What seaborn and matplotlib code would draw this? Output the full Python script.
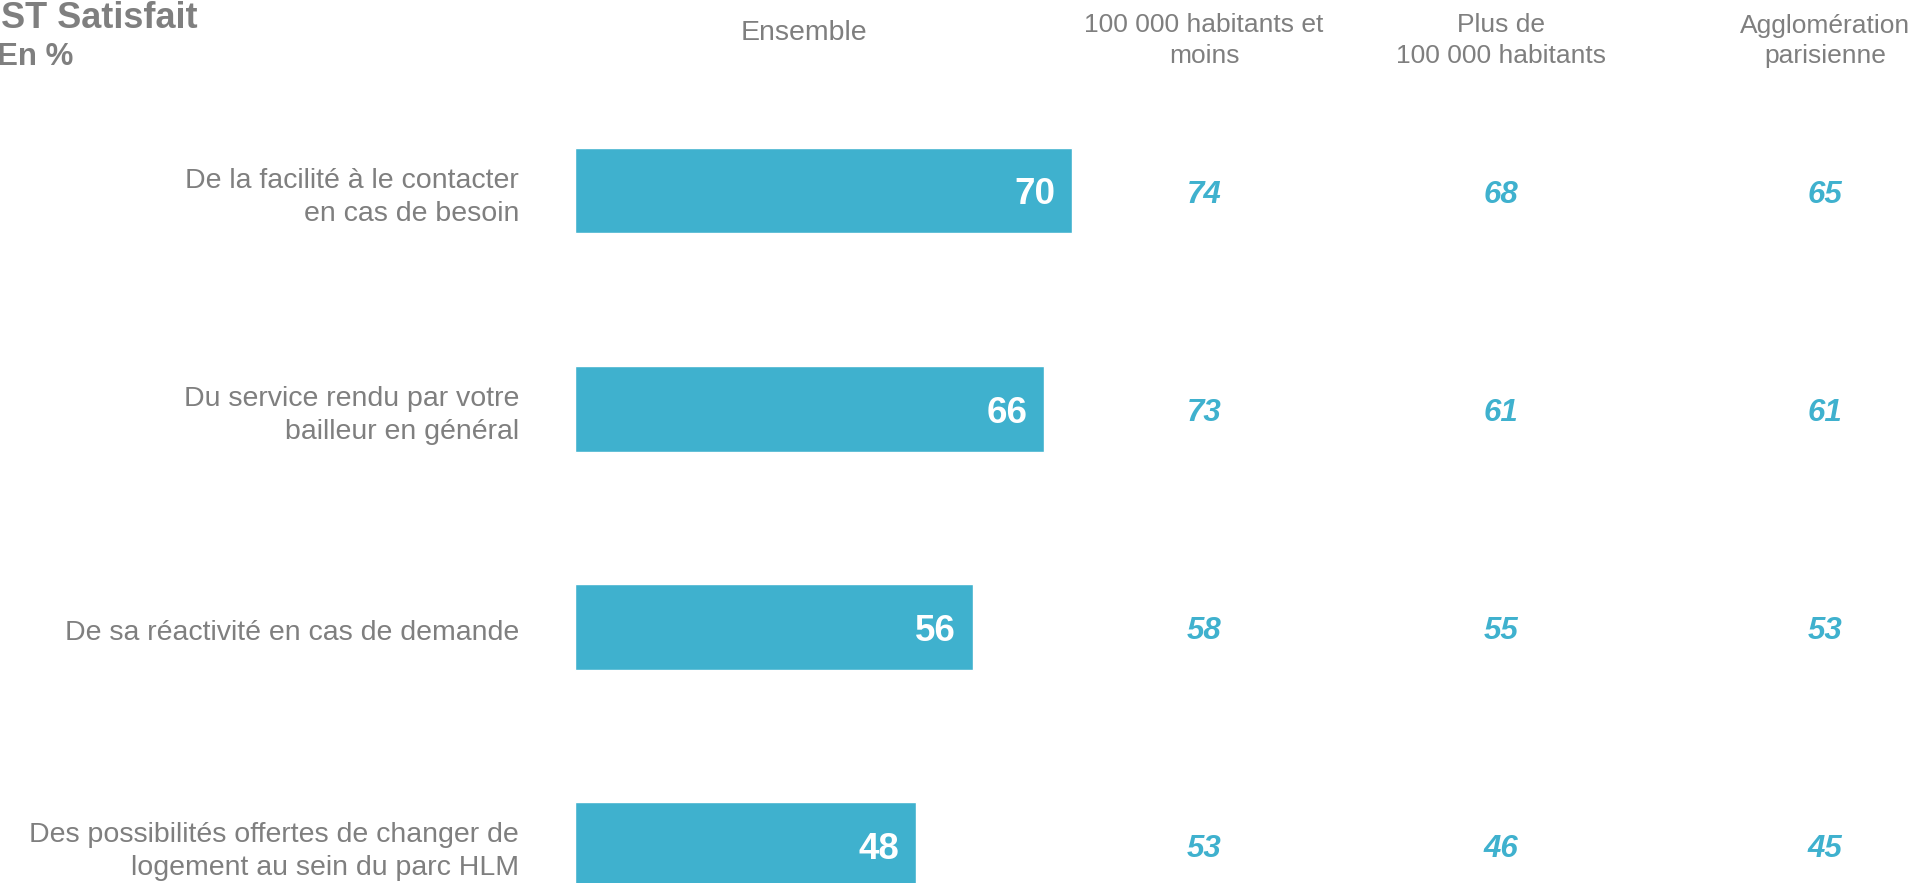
import matplotlib
matplotlib.use("Agg")
import matplotlib.pyplot as plt
import matplotlib.transforms as mtransforms
import seaborn as sns
import pandas as pd

# Survey results (% satisfied)
categories = [
    "De la facilité à le contacter\nen cas de besoin",
    "Du service rendu par votre\nbailleur en général",
    "De sa réactivité en cas de demande",
    "Des possibilités offertes de changer de\nlogement au sein du parc HLM",
]
ensemble = [70, 66, 56, 48]
moins_100k = [74, 73, 58, 53]
plus_100k = [68, 61, 55, 46]
agglo_paris = [65, 61, 53, 45]

column_headers = [
    "Ensemble",
    "100 000 habitants et\nmoins",
    "Plus de\n100 000 habitants",
    "Agglomération\nparisienne",
]

BAR = "#3FB1CE"
GREY = "#7F7F7F"
W, H = 1915, 883

sns.set_theme(style="white")
plt.rcParams["font.family"] = ["Liberation Sans", "DejaVu Sans"]

df = pd.DataFrame({"categorie": categories, "valeur": ensemble})

fig = plt.figure(figsize=(W / 100, H / 100), dpi=100)
ax = fig.add_axes([0, 0, 1, 1])
sns.barplot(data=df, x="valeur", y="categorie", orient="h", color=BAR,
            saturation=1, width=0.394, ax=ax)

# scale: bars start at x=575 px, 7.1 px per percentage point
x0_px, px_per_unit = 575, 7.1
ax.set_xlim(-x0_px / px_per_unit, (W - x0_px) / px_per_unit)
row0_px, row_step = 190.5, 218.2
ax.set_ylim((H - row0_px) / row_step, -row0_px / row_step)
ax.axis("off")

dy = 0.02  # optical centring of text on the bar rows

# value inside each bar
for i, v in enumerate(ensemble):
    ax.text(v - 2.3, i + dy, f"{v}", ha="right", va="center", color="white",
            fontsize=26.5, fontweight="bold")

# category labels, right-aligned to the left of bars
lab_tr = mtransforms.blended_transform_factory(ax.transAxes, ax.transData)
for i, c in enumerate(categories):
    ax.text(519 / W, i + 0.03, c, transform=lab_tr, ha="right", va="center",
            color=GREY, fontsize=20.5, linespacing=1.35)

# secondary columns as italic coloured figures
col_x = [1204, 1501, 1825]
for xpx, vals in zip(col_x, [moins_100k, plus_100k, agglo_paris]):
    for i, v in enumerate(vals):
        ax.text(xpx / W, i + dy, f"{v}", transform=lab_tr, ha="center",
                va="center", color=BAR, fontsize=22.5, fontweight="bold",
                style="italic")

# column headers
fig.text(804 / W, 1 - 33 / H, column_headers[0], ha="center", va="center",
         color=GREY, fontsize=20.5)
for xpx, h in zip([1204, 1501, 1825], column_headers[1:]):
    fig.text(xpx / W, 1 - 13.5 / H, h, ha="center", va="top", color=GREY,
             fontsize=19, linespacing=1.33)

# title
fig.text(198 / W, 1 - 18 / H, "ST Satisfait", ha="right", va="center",
         color=GREY, fontsize=26, fontweight="bold")
fig.text(-3 / W, 1 - 57 / H, "En %", ha="left", va="center",
         color=GREY, fontsize=22.5, fontweight="bold")

fig.savefig("out.png", dpi=100)
